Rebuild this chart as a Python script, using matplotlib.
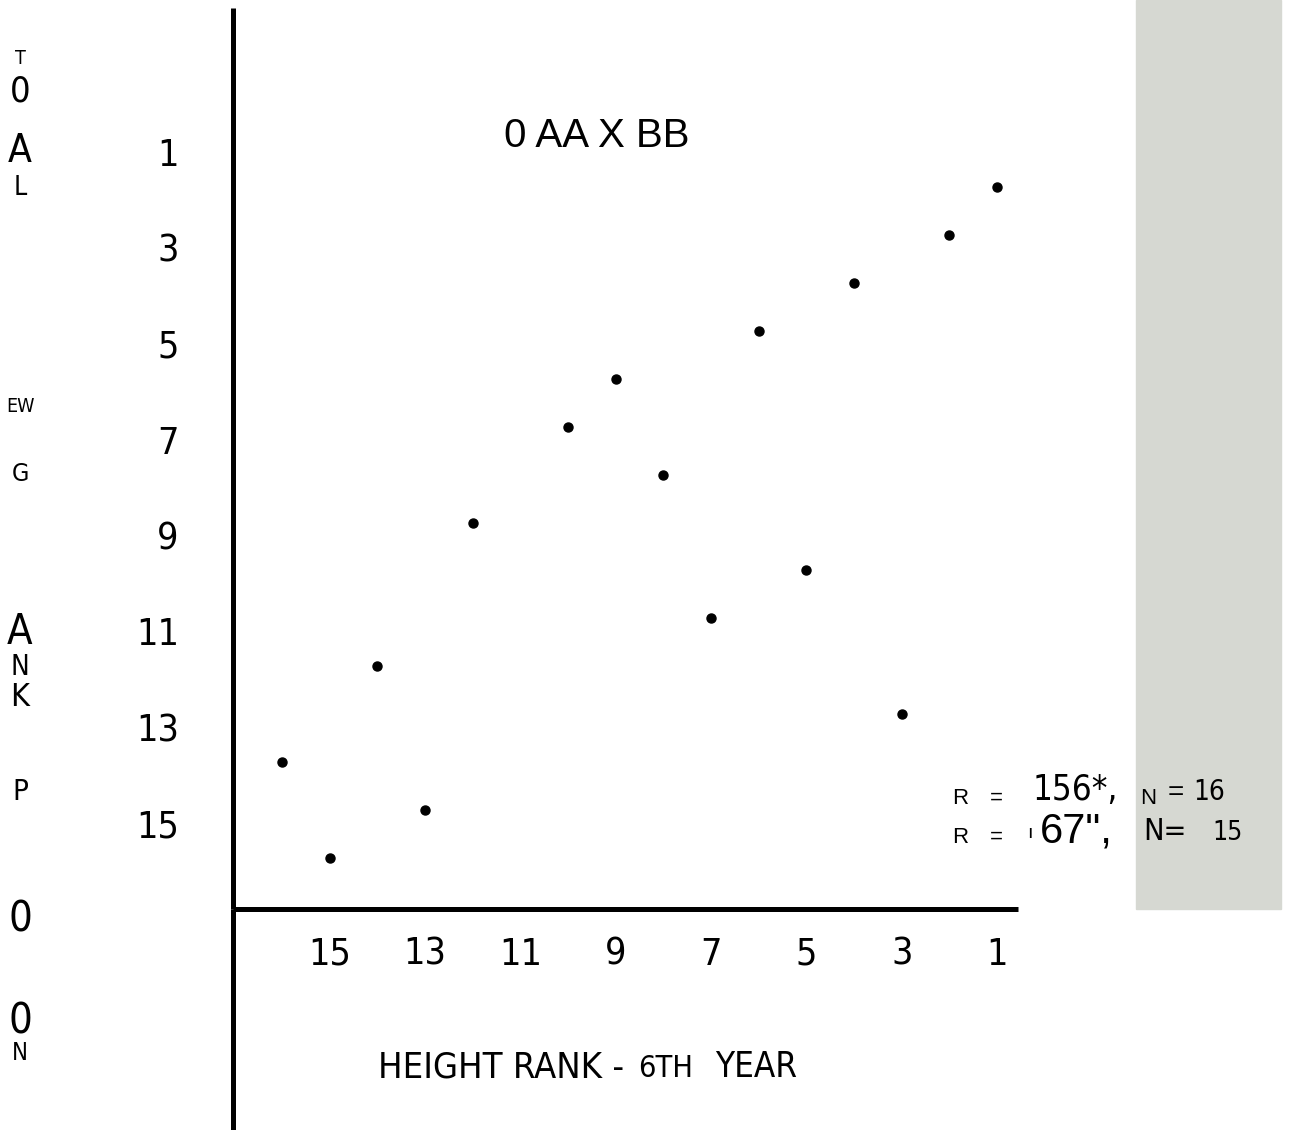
import matplotlib
matplotlib.use('Agg')
import matplotlib.pyplot as plt
from matplotlib.patches import Rectangle
from matplotlib.transforms import ScaledTranslation

#%% data: rank pairs (height rank on x, rank on y)
x_rank = [1, 2, 4, 6, 9, 10, 8, 12, 5, 7, 14, 3, 16, 13, 15]
y_rank = [2, 3, 4, 5, 6, 7, 8, 9, 10, 11, 12, 13, 14, 15, 16]
x_ticks = [15, 13, 11, 9, 7, 5, 3, 1]
y_ticks = [1, 3, 5, 7, 9, 11, 13, 15]
title_txt = '0 AA X BB'
xlabel_parts = ['HEIGHT RANK -', '6TH', 'YEAR']
side_letters = ['T', '0', 'A', 'L', 'EW', 'G', 'A', 'N', 'K', 'P', '0', '0', 'N']

NARROW = dict(family='DejaVu Sans', stretch='condensed')
WIDE = dict(family=['Liberation Sans', 'DejaVu Sans'])

W, H = 1292, 1130
fig = plt.figure(figsize=(W / 100, H / 100), dpi=100)

def fx(x):
    return x / W

def fy(y):
    return 1 - y / H

ax = fig.add_axes([fx(233), fy(909), (1018 - 233) / W, (909 - 8) / H])
ax.set_facecolor('none')

# grey strip on the right
fig.add_artist(Rectangle((fx(1136), fy(909)), 145 / W, 909 / H,
                         transform=fig.transFigure, color='#d6d8d2', zorder=0))

ax.plot(x_rank, y_rank, 'o', color='black', markersize=6.5, zorder=3)
ax.set_xlim(17.03, 0.56)
ax.set_ylim(17.06, -1.73)

for s in ['top', 'right']:
    ax.spines[s].set_visible(False)
for s in ['left', 'bottom']:
    ax.spines[s].set_linewidth(3.6)
    ax.spines[s].set_capstyle('butt')
# left axis runs on below the x axis
ax.plot([0, 0], [0, -(H - 909) / (909 - 8)], transform=ax.transAxes,
        clip_on=False, color='black', lw=3.6, solid_capstyle='butt')

ax.set_xticks(x_ticks)
ax.set_xticklabels([str(t) for t in x_ticks], fontsize=27, **NARROW)
ax.set_yticks(y_ticks)
ax.set_yticklabels([str(t) for t in y_ticks], fontsize=27, **NARROW)
ax.tick_params(axis='x', length=0, pad=20)
ax.tick_params(axis='y', length=0, pad=39)
shift = ScaledTranslation(0, -13 / 100, fig.dpi_scale_trans)
for lab in ax.get_yticklabels():
    lab.set_transform(lab.get_transform() + shift)

fig.text(fx(597), fy(136), title_txt, fontsize=29, ha='center', va='center', **WIDE)

# axis label with small caps in the middle
fig.text(fx(378), fy(1077), xlabel_parts[0], fontsize=26, ha='left', va='baseline', **NARROW)
fig.text(fx(638), fy(1077), xlabel_parts[1], fontsize=22, ha='left', va='baseline', **NARROW)
fig.text(fx(715), fy(1077), xlabel_parts[2], fontsize=25, ha='left', va='baseline', **NARROW)

# letters down the left edge
side_y = [58, 91, 151, 188, 406, 474, 632, 667, 698, 792, 920, 1022, 1053]
side_size = [14, 26, 28, 19, 14, 18, 30, 20, 23, 21, 30, 30, 17]
for t, yy, sz in zip(side_letters, side_y, side_size):
    fig.text(fx(20), fy(yy), t, fontsize=sz, ha='center', va='center', **NARROW)

# correlation notes
fig.text(fx(952), fy(804), 'R', fontsize=16, ha='left', va='baseline', **WIDE)
fig.text(fx(990), fy(804), '=', fontsize=16, ha='left', va='baseline', **WIDE)
fig.text(fx(1033), fy(800), '156*,', fontsize=25, ha='left', va='baseline', **NARROW)
fig.text(fx(1140), fy(804), 'N', fontsize=16, ha='left', va='baseline', **WIDE)
fig.text(fx(1168), fy(800), '=', fontsize=20, ha='left', va='baseline', **WIDE)
fig.text(fx(1193), fy(800), '16', fontsize=20, ha='left', va='baseline', **NARROW)

fig.text(fx(952), fy(843), 'R', fontsize=16, ha='left', va='baseline', **WIDE)
fig.text(fx(990), fy(843), '=', fontsize=16, ha='left', va='baseline', **WIDE)
fig.text(fx(1027), fy(838), 'ı', fontsize=14, ha='left', va='baseline', **WIDE)
fig.text(fx(1040), fy(842), '67",', fontsize=30, ha='left', va='baseline', **WIDE)
fig.text(fx(1143), fy(840), 'N=', fontsize=22, ha='left', va='baseline', **NARROW)
fig.text(fx(1212), fy(840), '15', fontsize=19, ha='left', va='baseline', **NARROW)

fig.savefig('out.png', dpi=100)
